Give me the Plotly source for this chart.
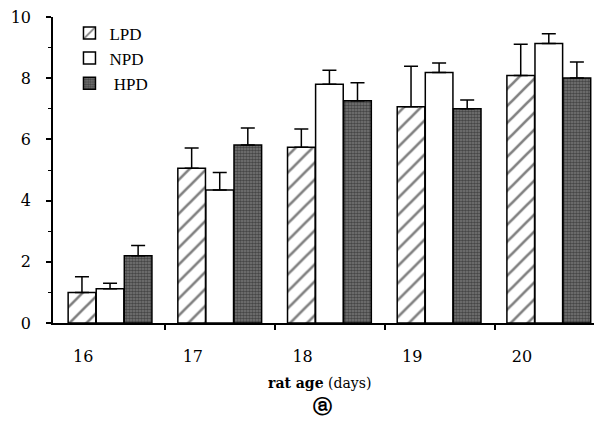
import plotly.graph_objects as go

ages = ["16", "17", "18", "19", "20"]
series_names = ["LPD", "NPD", " HPD"]
lpd = [1.0, 5.06, 5.74, 7.07, 8.09]
lpd_err = [0.51, 0.66, 0.60, 1.32, 1.02]
npd = [1.12, 4.35, 7.80, 8.19, 9.13]
npd_err = [0.18, 0.57, 0.46, 0.31, 0.32]
hpd = [2.2, 5.82, 7.26, 7.00, 8.01]
hpd_err = [0.33, 0.55, 0.59, 0.29, 0.52]

pos = list(range(len(ages)))
bw = 0.252
offsets = [-0.256, 0.0, 0.256]
patterns = [
    dict(shape="/", fgcolor="black", bgcolor="white", size=12, solidity=0.22),
    dict(shape="", fgcolor="black", bgcolor="white"),
    dict(shape=".", fgcolor="#111111", bgcolor="#7a7a7a", size=3, solidity=0.6),
]
colors = ["white", "white", "#4d4d4d"]
data = [(lpd, lpd_err), (npd, npd_err), (hpd, hpd_err)]

fig = go.Figure()
for k, (vals, errs) in enumerate(data):
    fig.add_trace(go.Bar(
        x=[p + offsets[k] for p in pos], y=vals, width=bw,
        name=series_names[k],
        marker=dict(color=colors[k], pattern=patterns[k],
                    line=dict(color="black", width=1.5)),
        error_y=dict(type="data", array=errs, arrayminus=[0] * len(errs),
                     symmetric=False, color="black", thickness=1.5, width=7),
    ))

fig.update_layout(
    width=594, height=415,
    margin=dict(l=45, r=0, t=9, b=100),
    plot_bgcolor="white", paper_bgcolor="white",
    showlegend=True,
    legend=dict(x=0.03, y=1.005, xanchor="left", yanchor="top",
                font=dict(family="Liberation Serif", size=17, color="black"),
                bgcolor="rgba(0,0,0,0)", tracegroupgap=0, itemwidth=30),
    font=dict(family="DejaVu Serif", color="black"),
)
fig.update_xaxes(
    range=[-0.52, 4.485], showgrid=False, zeroline=False,
    showline=True, linecolor="black", linewidth=1.5,
    tickmode="array", tickvals=[p - 0.245 for p in pos], ticktext=ages,
    ticks="outside", ticklen=0, tickfont=dict(size=16, family="DejaVu Serif"),
    ticklabelstandoff=18, ticklabeloverflow="allow",
    minor=dict(tickmode="array", tickvals=[p + 0.505 for p in pos[:-1]],
               ticks="outside", ticklen=5, tickcolor="black", tickwidth=1.5,
               showgrid=False),
)
fig.update_yaxes(
    range=[0, 10], showgrid=False, zeroline=False,
    showline=True, linecolor="black", linewidth=1.5,
    tickmode="array", tickvals=[0, 2, 4, 6, 8, 10],
    ticks="outside", ticklen=5, tickcolor="black", tickwidth=1.5,
    tickfont=dict(size=16, family="DejaVu Serif"), ticklabelstandoff=12,
    ticklabeloverflow="allow",
    minor=dict(tickmode="array", tickvals=[1, 3, 5, 7, 9], ticks="outside",
               ticklen=3, tickcolor="black", tickwidth=1, showgrid=False),
)
fig.add_annotation(x=0.486, y=-0.195, xref="paper", yref="paper",
                   text="<b>rat age</b> (days)", showarrow=False,
                   font=dict(family="DejaVu Serif", size=14, color="black"),
                   xanchor="center", yanchor="middle")
fig.add_annotation(x=0.49, y=-0.27, xref="paper", yref="paper",
                   text="<b>ⓐ</b>", showarrow=False,
                   font=dict(family="DejaVu Sans", size=19, color="black"),
                   xanchor="center", yanchor="middle")
fig.write_html("out.html")
